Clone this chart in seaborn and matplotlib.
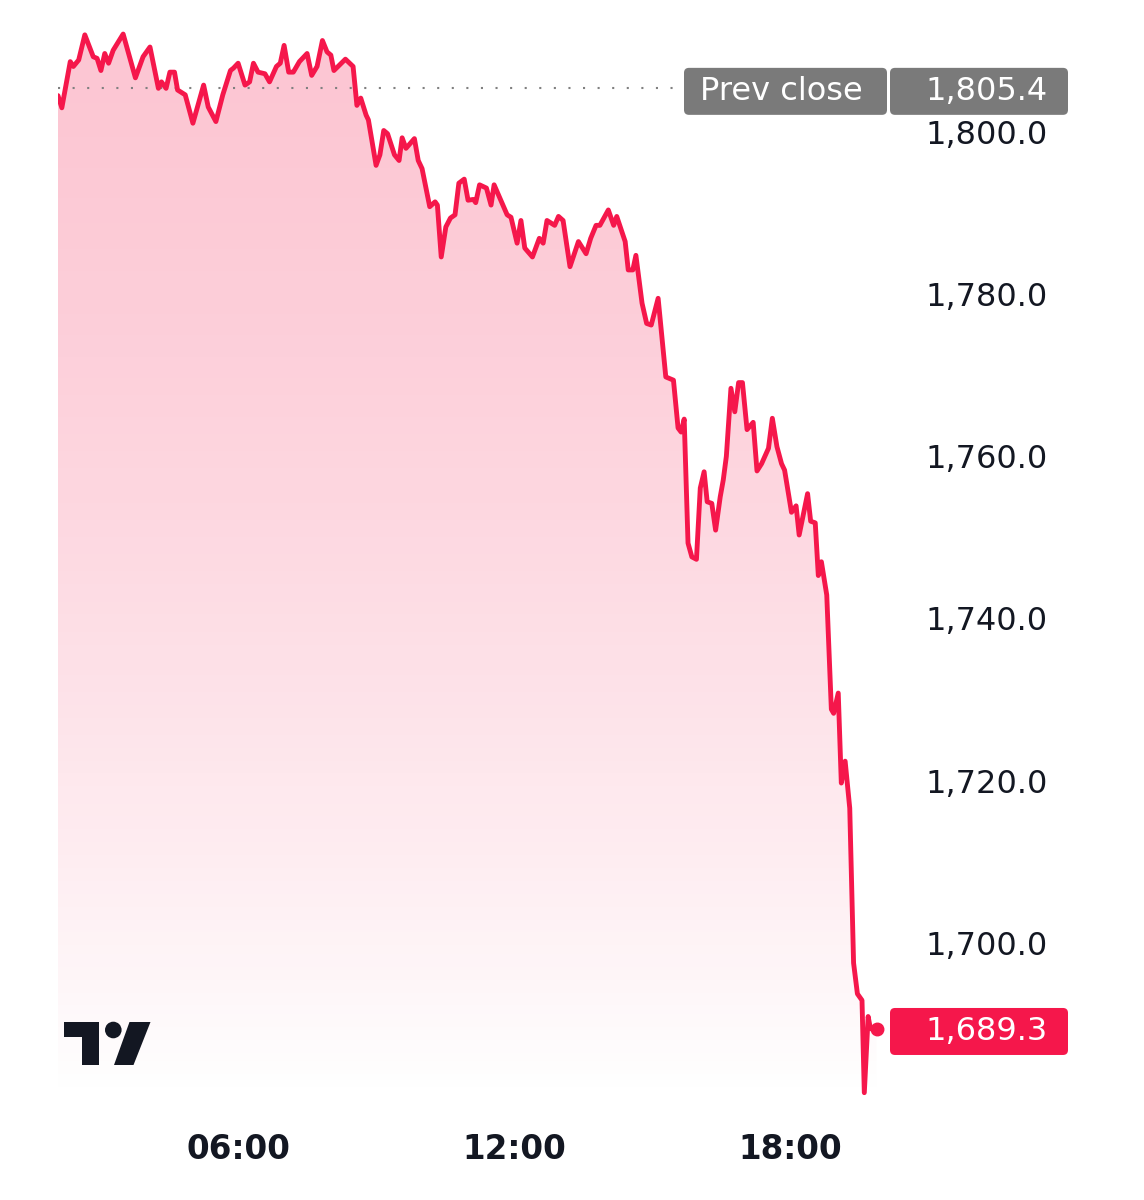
import numpy as np
import pandas as pd
import matplotlib
matplotlib.use('Agg')
import matplotlib.pyplot as plt
import matplotlib.dates as mdates
from matplotlib.colors import to_rgb
from matplotlib.patches import FancyBboxPatch, Polygon, Circle
import seaborn as sns

# intraday prices
times = ["02:05", "02:10", "02:21", "02:25", "02:32", "02:40", "02:51", "02:56", "03:01", "03:06",
         "03:11", "03:17", "03:30", "03:46", "03:56", "04:05", "04:16", "04:20", "04:26", "04:31",
         "04:37", "04:41", "04:51", "05:01", "05:15", "05:21", "05:31", "05:40", "05:50", "05:54",
         "06:00", "06:09", "06:15", "06:20", "06:26", "06:35", "06:41", "06:50", "06:55", "07:00",
         "07:06", "07:12", "07:20", "07:30", "07:36", "07:43", "07:50", "07:56", "08:01", "08:05",
         "08:20", "08:30", "08:35", "08:40", "08:47", "08:50", "09:00", "09:05", "09:10", "09:15",
         "09:24", "09:30", "09:34", "09:39", "09:50", "09:55", "10:00", "10:10", "10:17", "10:20",
         "10:25", "10:31", "10:37", "10:43", "10:48", "10:55", "11:00", "11:07", "11:10", "11:15",
         "11:24", "11:30", "11:34", "11:51", "11:56", "12:04", "12:09", "12:14", "12:24", "12:33",
         "12:38", "12:43", "12:53", "12:58", "13:04", "13:13", "13:24", "13:34", "13:40", "13:47",
         "13:52", "14:03", "14:10", "14:14", "14:25", "14:29", "14:35", "14:39", "14:47", "14:53",
         "14:59", "15:08", "15:18", "15:28", "15:34", "15:38", "15:42", "15:47", "15:52", "15:58",
         "16:03", "16:08", "16:12", "16:18", "16:23", "16:29", "16:33", "16:37", "16:43", "16:48",
         "16:53", "16:58", "17:04", "17:12", "17:17", "17:23", "17:32", "17:37", "17:43", "17:49",
         "17:53", "18:02", "18:08", "18:12", "18:23", "18:27", "18:33", "18:37", "18:41", "18:48",
         "18:54", "18:57", "19:03", "19:07", "19:12", "19:18", "19:23", "19:28", "19:34", "19:37",
         "19:42", "19:45", "19:53"]
prices = [1804.5, 1803.0, 1808.7, 1808.1, 1808.9, 1812.0, 1809.3, 1809.1, 1807.6, 1809.7,
          1808.5, 1810.1, 1812.1, 1806.7, 1809.3, 1810.5, 1805.4, 1806.2, 1805.4, 1807.4,
          1807.4, 1805.2, 1804.6, 1801.1, 1805.8, 1803.1, 1801.3, 1804.6, 1807.6, 1807.9,
          1808.5, 1805.8, 1806.2, 1808.5, 1807.4, 1807.2, 1806.2, 1808.1, 1808.5, 1810.7,
          1807.4, 1807.4, 1808.7, 1809.7, 1807.0, 1808.1, 1811.3, 1809.9, 1809.5, 1807.6,
          1809.0, 1808.1, 1803.3, 1804.2, 1802.1, 1801.5, 1795.9, 1797.2, 1800.2, 1799.8,
          1797.2, 1796.5, 1799.3, 1798.0, 1799.2, 1796.5, 1795.5, 1790.8, 1791.4, 1791.0,
          1784.6, 1788.3, 1789.4, 1789.8, 1793.7, 1794.2, 1791.6, 1791.7, 1791.3, 1793.5,
          1793.1, 1791.0, 1793.5, 1789.8, 1789.5, 1786.3, 1789.1, 1785.7, 1784.6, 1786.9,
          1786.3, 1789.1, 1788.5, 1789.6, 1789.1, 1783.4, 1786.5, 1785.0, 1786.9, 1788.5,
          1788.5, 1790.4, 1788.5, 1789.6, 1786.5, 1783.0, 1783.0, 1784.8, 1778.9, 1776.4,
          1776.2, 1779.5, 1769.8, 1769.4, 1763.5, 1763.0, 1764.6, 1749.3, 1747.6, 1747.3,
          1756.1, 1758.1, 1754.4, 1754.2, 1750.9, 1755.0, 1757.1, 1760.0, 1768.4, 1765.5,
          1769.1, 1769.1, 1763.3, 1764.2, 1758.2, 1759.1, 1761.0, 1764.7, 1761.2, 1759.1,
          1758.3, 1753.1, 1753.9, 1750.3, 1755.4, 1752.0, 1751.8, 1745.3, 1747.0, 1742.9,
          1728.8, 1728.3, 1730.8, 1719.7, 1722.4, 1716.6, 1697.5, 1693.7, 1692.9, 1681.5,
          1690.9, 1689.4, 1689.3]
prev_close = 1805.4
y_ticks = [1700, 1720, 1740, 1760, 1780, 1800]
x_ticks = ["06:00", "12:00", "18:00"]

RED = '#f5174b'
GRAY = '#7a7a7a'
INK = '#131722'

sns.set_theme(style='white')
plt.rcParams['font.family'] = ['DejaVu Sans']

day = '2024-01-01 '
df = pd.DataFrame({'time': pd.to_datetime([day + t for t in times]), 'price': prices})

fig = plt.figure(figsize=(11.44, 12), dpi=100)
ax = fig.add_axes([58 / 1144, 100 / 1200, 827 / 1144, 1100 / 1200])

x0 = df['time'].iloc[0]
x1 = pd.Timestamp(day + '20:04')
y0, y1 = 1680.6, 1816.3

# gradient area under the line
poly = ax.fill_between(df['time'], df['price'], y0, color='none', lw=0)
t = np.linspace(0, 1, 256).reshape(-1, 1)
rgba = np.zeros((256, 1, 4))
rgba[..., :3] = to_rgb(RED)
rgba[..., 3] = 0.25 * (1 - t ** 1.5)
im = ax.imshow(rgba, extent=[mdates.date2num(x0), mdates.date2num(x1), y0, y1],
               aspect='auto', origin='upper', zorder=1)
im.set_clip_path(poly.get_paths()[0], transform=ax.transData)

ax.axhline(prev_close, color='#808080', lw=1.5, ls=(0, (1, 6)), zorder=2)
sns.lineplot(data=df, x='time', y='price', color=RED, linewidth=3.5, ax=ax, zorder=3,
             solid_joinstyle='round')
ax.plot(df['time'].iloc[-1], df['price'].iloc[-1], 'o', color=RED, ms=9, zorder=4)

ax.set_xlim(x0, x1)
ax.set_ylim(y0, y1)
ax.set_xlabel('')
ax.set_ylabel('')
ax.grid(False)
sns.despine(ax=ax, left=True, bottom=True)

ax.set_xticks(pd.to_datetime([day + s for s in x_ticks]))
ax.xaxis.set_major_formatter(mdates.DateFormatter('%H:%M'))
ax.tick_params(axis='x', length=0, pad=24, labelsize=23.5, labelcolor=INK)
for lab in ax.get_xticklabels():
    lab.set_fontweight('bold')

ax.yaxis.tick_right()
ax.set_yticks(y_ticks)
ax.set_yticklabels([f'{v:,.1f}' for v in y_ticks])
ax.tick_params(axis='y', length=0, pad=117, labelsize=23, labelcolor=INK)
for lab in ax.get_yticklabels():
    lab.set_horizontalalignment('right')

# overlay in pixel units for the price tags and logo
ov = fig.add_axes([0, 0, 1, 1], zorder=5)
ov.set_xlim(0, 1144)
ov.set_ylim(1200, 0)
ov.axis('off')
ov.patch.set_alpha(0)


def ypix(v):
    return 1200 - ax.transData.transform((mdates.date2num(x0), v))[1]


yc = ypix(prev_close) + 3
h = 47
box = 'round,pad=0,rounding_size=5'
ov.add_patch(FancyBboxPatch((684, yc - h / 2), 203, h, boxstyle=box, fc=GRAY, ec='none'))
ov.add_patch(FancyBboxPatch((890, yc - h / 2), 178, h, boxstyle=box, fc=GRAY, ec='none'))
ov.text(700, yc, 'Prev close', color='white', fontsize=23, va='center', ha='left')
ov.text(1048, yc, f'{prev_close:,.1f}', color='white', fontsize=23, va='center', ha='right')

last = prices[-1]
yl = ypix(last) + 2
ov.add_patch(FancyBboxPatch((890, yl - h / 2), 178, h, boxstyle=box, fc=RED, ec='none'))
ov.text(1048, yl, f'{last:,.1f}', color='white', fontsize=23, va='center', ha='right')

# TradingView mark
ov.add_patch(Polygon([(64, 1022), (99, 1022), (99, 1065), (82, 1065), (82, 1037), (64, 1037)],
                     closed=True, fc=INK, ec='none'))
ov.add_patch(Circle((113.3, 1030), 8.3, fc=INK, ec='none'))
ov.add_patch(Polygon([(129.5, 1022), (150.5, 1022), (133.5, 1065), (114, 1065)],
                     closed=True, fc=INK, ec='none'))

fig.savefig('out.png', dpi=100)
